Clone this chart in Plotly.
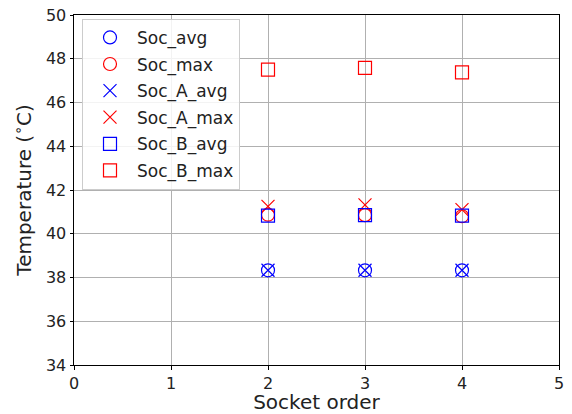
import plotly.graph_objects as go

x = [2, 3, 4]
soc_avg = [38.33, 38.33, 38.33]
soc_max = [40.87, 40.85, 40.8]
soc_a_avg = [38.33, 38.33, 38.33]
soc_a_max = [41.25, 41.32, 41.1]
soc_b_avg = [40.83, 40.85, 40.83]
soc_b_max = [47.5, 47.58, 47.38]

series = [
    ("Soc_avg", soc_avg, "circle-open", "blue"),
    ("Soc_max", soc_max, "circle-open", "red"),
    ("Soc_A_avg", soc_a_avg, "x-thin-open", "blue"),
    ("Soc_A_max", soc_a_max, "x-thin-open", "red"),
    ("Soc_B_avg", soc_b_avg, "square-open", "blue"),
    ("Soc_B_max", soc_b_max, "square-open", "red"),
]

fig = go.Figure()
for name, vals, sym, col in series:
    fig.add_trace(go.Scatter(
        x=x, y=vals, mode="markers", name=name, legendgroup=name,
        marker=dict(symbol=sym, size=13, color=col, line=dict(color=col, width=1.2)),
    ))

axis_common = dict(
    showgrid=True, gridcolor="#b0b0b0", gridwidth=1,
    showline=True, linecolor="black", linewidth=1, mirror=True,
    ticks="outside", ticklen=3.5, tickcolor="black",
    tickfont=dict(family="DejaVu Sans", size=16, color="#222222"),
    zeroline=False, automargin=False,
)

fig.update_layout(
    width=572, height=414,
    margin=dict(l=74, r=13, t=15, b=49),
    plot_bgcolor="white", paper_bgcolor="white",
    font=dict(family="DejaVu Sans", size=17, color="#222222"),
    xaxis=dict(range=[0, 5], dtick=1, title=dict(text="Socket order", font=dict(size=20), standoff=8), **axis_common),
    yaxis=dict(range=[34, 50], dtick=2, title=dict(text="Temperature (<sup>∘</sup>C)", font=dict(size=20), standoff=8), **axis_common),
    legend=dict(
        x=0.0165, y=0.989, xanchor="left", yanchor="top",
        bgcolor="rgba(255,255,255,0.85)", bordercolor="#cccccc", borderwidth=1,
        font=dict(size=17), tracegroupgap=1.5, itemwidth=44,
    ),
    showlegend=True,
)

fig.write_html("out.html")
